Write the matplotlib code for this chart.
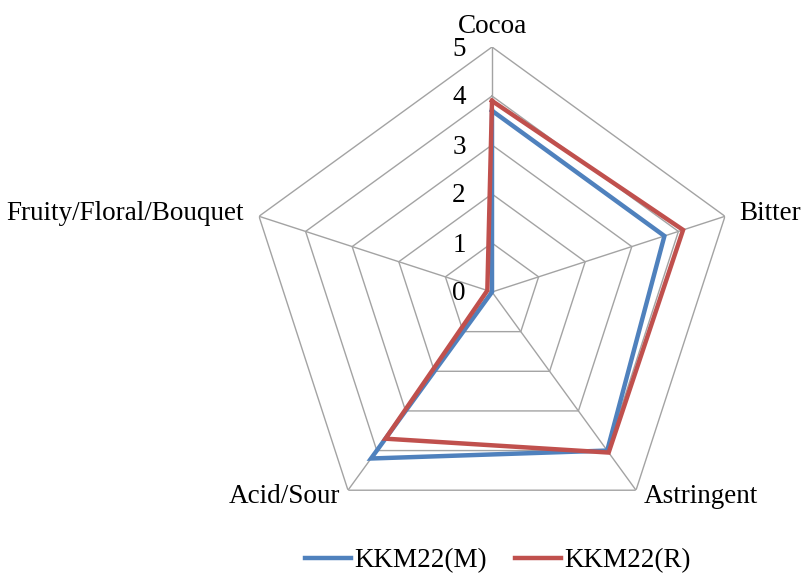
import numpy as np
import matplotlib
matplotlib.use("Agg")
import matplotlib.pyplot as plt
from matplotlib.lines import Line2D

# Sensory attributes (clockwise from the top) and panel scores
attributes = ["Cocoa", "Bitter", "Astringent", "Acid/Sour", "Fruity/Floral/Bouquet"]
scores_m = [3.7, 3.7, 4.0, 4.2, 0.0]
scores_r = [3.9, 4.1, 4.05, 3.7, 0.1]
series_names = ["KKM22(M)", "KKM22(R)"]
ring_levels = [0, 1, 2, 3, 4, 5]

BLUE = "#4F81BD"
RED = "#C0504D"
GRID = "#A3A3A3"
FONT = "Liberation Serif"
FS = 19.5

plt.rcParams["font.family"] = [FONT, "DejaVu Serif"]

W, H = 805, 577
fig = plt.figure(figsize=(W / 100, H / 100), dpi=100)

cx, cy, rad = 492, 292, 245
ax = fig.add_axes([(cx - rad) / W, (H - cy - rad) / H, 2 * rad / W, 2 * rad / H],
                  projection="polar")
ax.set_theta_offset(np.pi / 2)
ax.set_theta_direction(-1)
ax.set_ylim(0, ring_levels[-1])
ax.grid(False)
ax.spines["polar"].set_visible(False)
ax.set_xticks([])
ax.set_yticks([])
ax.patch.set_alpha(0)

n = len(attributes)
angles = np.arange(n) * 2 * np.pi / n
closed = np.append(angles, angles[0])

# Pentagon grid rings and spokes
for lv in ring_levels[1:]:
    ax.plot(closed, [lv] * (n + 1), color=GRID, lw=1.0, zorder=1)
for a in angles:
    ax.plot([a, a], [0, ring_levels[-1]], color=GRID, lw=1.0, zorder=1)

# Data series
for vals, col in ((scores_m, BLUE), (scores_r, RED)):
    v = np.append(vals, vals[0])
    ax.plot(closed, v, color=col, lw=3.2, solid_joinstyle="miter", zorder=3)

# Scale labels beside the top spoke
for lv in ring_levels:
    ax.annotate(str(lv), xy=(0, lv), xytext=(-33, -2), textcoords="offset pixels",
                ha="center", va="center", fontsize=FS, color="black")

# Attribute labels at the outer vertices
label_spec = [
    ((0, 8), "center", "bottom"),
    ((14, 3), "left", "center"),
    ((8, -6), "left", "center"),
    ((-8, -6), "right", "center"),
    ((-15, 3), "right", "center"),
]
for a, name, (off, ha, va) in zip(angles, attributes, label_spec):
    ax.annotate(name, xy=(a, ring_levels[-1]), xytext=off, textcoords="offset pixels",
                ha=ha, va=va, fontsize=FS, color="black", annotation_clip=False)

handles = [Line2D([], [], color=BLUE, lw=3.2), Line2D([], [], color=RED, lw=3.2)]
fig.legend(handles, series_names, loc="center", bbox_to_anchor=(498 / W, (H - 561) / H),
           ncol=2, frameon=False, fontsize=FS, handlelength=1.7, handletextpad=0.11,
           columnspacing=1.05, borderpad=0)

fig.savefig("out.png", dpi=100)
